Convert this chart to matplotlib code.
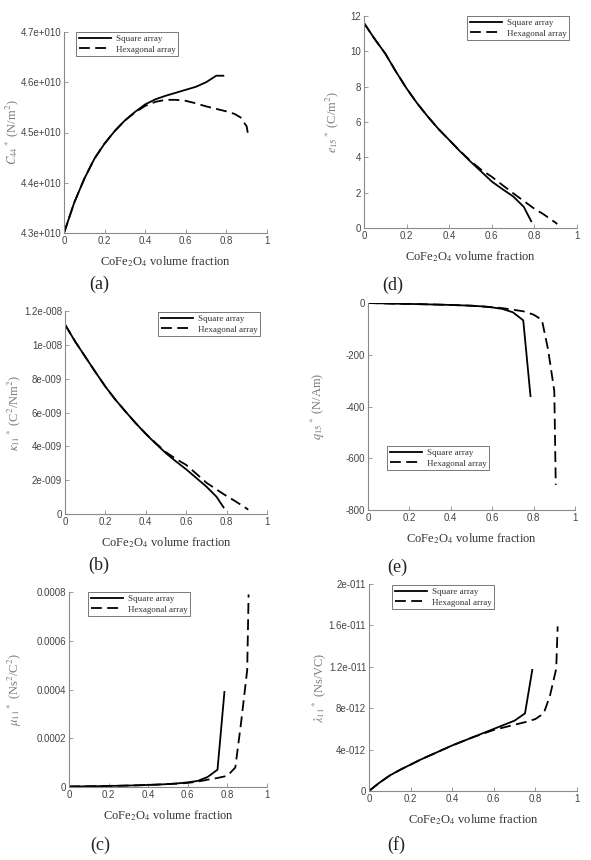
import numpy as np
import matplotlib
matplotlib.use('Agg')
import matplotlib.pyplot as plt
from matplotlib.lines import Line2D

plt.rcParams['mathtext.fontset'] = 'stix'
plt.rcParams['font.family'] = 'Liberation Serif'

# volume fractions (square array stops at pi/4, hexagonal at pi/(2*sqrt(3)))
x_sq = [0, 0.05, 0.1, 0.15, 0.2, 0.25, 0.3, 0.35, 0.4, 0.45, 0.5, 0.55,
        0.6, 0.65, 0.7, 0.75, 0.785]
x_hex = [0, 0.05, 0.1, 0.15, 0.2, 0.25, 0.3, 0.35, 0.4, 0.45, 0.5, 0.55,
         0.6, 0.65, 0.7, 0.75, 0.8, 0.84, 0.87, 0.9, 0.907]

# (a) C44* in 1e10 N/m^2
c44_sq = [4.30, 4.36, 4.408, 4.448, 4.478, 4.503, 4.524, 4.541, 4.556, 4.566,
          4.573, 4.579, 4.585, 4.591, 4.600, 4.613, 4.613]
c44_hex = [4.30, 4.36, 4.408, 4.448, 4.478, 4.503, 4.524, 4.540, 4.553, 4.561,
           4.565, 4.565, 4.563, 4.558, 4.552, 4.547, 4.542, 4.537, 4.530, 4.512, 4.495]

# (d) e15* in C/m^2
e15_sq = [11.6, 10.7, 9.87, 8.85, 7.9, 7.05, 6.3, 5.6, 4.98, 4.35, 3.76, 3.2,
          2.63, 2.2, 1.79, 1.2, 0.38]
e15_hex = [11.6, 10.7, 9.87, 8.85, 7.9, 7.05, 6.3, 5.6, 4.98, 4.37, 3.8, 3.3,
           2.9, 2.43, 1.97, 1.53, 1.09, 0.8, 0.55, 0.3, 0.22]

# (b) kappa11* in 1e-9 C^2/Nm^2
k11_sq = [11.2, 10.2, 9.3, 8.4, 7.53, 6.75, 6.05, 5.37, 4.73, 4.15, 3.59, 3.1,
          2.64, 2.13, 1.62, 1.02, 0.39]
k11_hex = [11.2, 10.2, 9.3, 8.4, 7.53, 6.75, 6.05, 5.37, 4.75, 4.18, 3.65, 3.25,
           2.9, 2.38, 1.85, 1.45, 1.06, 0.78, 0.55, 0.32, 0.25]

# (e) q15* in N/Am
q15_sq = [0, -1, -2, -3, -3.5, -4.5, -5.5, -6.5, -7.5, -9, -10.5, -13, -17, -23,
          -36, -67, -360]
q15_hex = [0, -1, -2, -3, -3.5, -4.5, -5.5, -6.5, -7.5, -9, -10.5, -13, -16, -20,
           -26, -32, -45, -65, -180, -340, -703]

# (c) mu11* in 1e-4 Ns^2/C^2
mu11_sq = [0.02, 0.025, 0.03, 0.035, 0.045, 0.05, 0.06, 0.07, 0.085, 0.1, 0.12,
           0.15, 0.19, 0.25, 0.41, 0.71, 3.9]
mu11_hex = [0.02, 0.025, 0.03, 0.035, 0.045, 0.05, 0.06, 0.07, 0.085, 0.1, 0.12,
            0.14, 0.17, 0.22, 0.3, 0.37, 0.46, 0.8, 2.7, 4.8, 7.9]

# (f) lambda11* in 1e-12 Ns/VC
l11_sq = [0, 0.8, 1.5, 2.05, 2.55, 3.05, 3.5, 3.95, 4.4, 4.8, 5.2, 5.6, 6.0,
          6.4, 6.8, 7.5, 11.7]
l11_hex = [0, 0.8, 1.5, 2.05, 2.55, 3.05, 3.5, 3.95, 4.4, 4.8, 5.2, 5.55, 5.9,
           6.15, 6.4, 6.65, 6.95, 7.5, 9.2, 11.8, 15.9]

x_ticks = [0, 0.2, 0.4, 0.6, 0.8, 1]
x_labels = ['0', '0.2', '0.4', '0.6', '0.8', '1']

W, H = 591, 860
fig = plt.figure(figsize=(W / 100, H / 100), dpi=100)

GRAY_AX = '#8a8a8a'


def px_axes(l, r, t, b):
    return fig.add_axes([l / W, 1 - b / H, (r - l) / W, (b - t) / H])


def panel(box, ysq, yhex, scale, yticks, ylabels, ylim, ylabel, ylab_x,
          leg_xy, tag, tag_xy):
    ax = px_axes(*box)
    ax.plot(x_sq, np.array(ysq) * scale, color='black', lw=1.3)
    ax.plot(x_hex, np.array(yhex) * scale, color='black', lw=1.3, dashes=(6, 3))
    ax.set_xlim(0, 1)
    ax.set_ylim(*ylim)
    ax.set_xticks(x_ticks)
    ax.set_xticklabels(x_labels)
    ax.set_yticks(yticks)
    ax.set_yticklabels(ylabels)
    for s in ['top', 'right']:
        ax.spines[s].set_visible(False)
    for s in ['left', 'bottom']:
        ax.spines[s].set_color(GRAY_AX)
        ax.spines[s].set_linewidth(0.8)
    ax.tick_params(direction='in', length=3, width=0.6, color=GRAY_AX,
                   labelsize=7, labelcolor='#444444', pad=2)
    for lab in ax.get_xticklabels() + ax.get_yticklabels():
        lab.set_family('Liberation Sans')
    ax.set_xlabel(r'CoFe$_2$O$_4$ volume fraction', fontsize=9, color='#333333',
                  labelpad=6)
    ax.set_ylabel(ylabel, fontsize=9, color='#7a7a7a', va='center')
    ax.yaxis.set_label_coords((ylab_x - box[0]) / (box[1] - box[0]), 0.5)
    handles = [Line2D([], [], color='black', lw=1.3),
               Line2D([], [], color='black', lw=1.3, dashes=(6, 3))]
    leg = fig.legend(handles, ['Square array', 'Hexagonal array'],
                     loc='upper left', bbox_to_anchor=(leg_xy[0] / W, 1 - leg_xy[1] / H),
                     fontsize=6.5, handlelength=3.6, handletextpad=0.5,
                     borderpad=0.3, labelspacing=0.25, borderaxespad=0,
                     fancybox=False, framealpha=1)
    leg.get_frame().set_edgecolor('#777777')
    leg.get_frame().set_linewidth(0.7)
    for t in leg.get_texts():
        t.set_color('#333333')
    fig.text(tag_xy[0] / W, 1 - tag_xy[1] / H, tag, fontsize=13, ha='center',
             va='center', color='#222222')
    return ax


panel((64, 267, 32, 233), c44_sq, c44_hex, 1e10,
      [4.3e10, 4.4e10, 4.5e10, 4.6e10, 4.7e10],
      ['4.3e+010', '4.4e+010', '4.5e+010', '4.6e+010', '4.7e+010'],
      (4.3e10, 4.7e10), r'$C_{44}$$^*$ (N/m$^2$)', 12, (76, 32), '(a)', (99, 284))

panel((364, 577, 16, 228), e15_sq, e15_hex, 1.0,
      [0, 2, 4, 6, 8, 10, 12], ['0', '2', '4', '6', '8', '10', '12'],
      (0, 12), r'$e_{15}$$^*$ (C/m$^2$)', 332, (467, 16), '(d)', (393, 285))

panel((65, 267, 311, 514), k11_sq, k11_hex, 1e-9,
      [0, 2e-9, 4e-9, 6e-9, 8e-9, 10e-9, 12e-9],
      ['0', '2e-009', '4e-009', '6e-009', '8e-009', '1e-008', '1.2e-008'],
      (0, 1.2e-8), r'$\kappa_{11}$$^*$ (C$^2$/Nm$^2$)', 14, (158, 312), '(b)', (99, 565))

panel((368, 575, 303, 510), q15_sq, q15_hex, 1.0,
      [-800, -600, -400, -200, 0], ['-800', '-600', '-400', '-200', '0'],
      (-800, 0), r'$q_{15}$$^*$ (N/Am)', 318, (387, 446), '(e)', (397, 567))

panel((69, 267, 592, 787), mu11_sq, mu11_hex, 1e-4,
      [0, 2e-4, 4e-4, 6e-4, 8e-4], ['0', '0.0002', '0.0004', '0.0006', '0.0008'],
      (0, 8e-4), r'$\mu_{11}$$^*$ (Ns$^2$/C$^2$)', 15, (88, 592), '(c)', (100, 845))

panel((369, 577, 584, 791), l11_sq, l11_hex, 1e-12,
      [0, 4e-12, 8e-12, 12e-12, 16e-12, 20e-12],
      ['0', '4e-012', '8e-012', '1.2e-011', '1.6e-011', '2e-011'],
      (0, 2e-11), r'$\lambda_{11}$$^*$ (Ns/VC)', 319, (392, 585), '(f)', (396, 845))

fig.savefig('out.png', dpi=100, facecolor='white')
